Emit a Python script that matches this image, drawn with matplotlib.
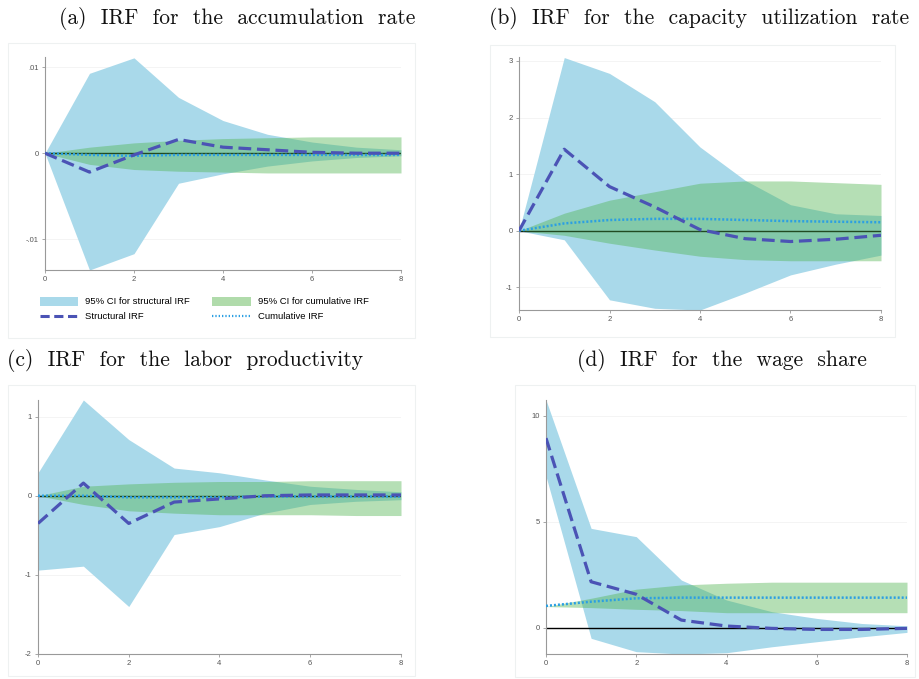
import matplotlib
matplotlib.use("Agg")
import matplotlib.pyplot as plt
from matplotlib.patches import Patch, Rectangle
from matplotlib.lines import Line2D

steps = [0, 1, 2, 3, 4, 5, 6, 7, 8]

# (a) accumulation rate
a_struct = [0, -0.0022, -0.0002, 0.0016, 0.0007, 0.0004, 0.0001, 0.0, 0.0]
a_struct_lo = [0, -0.0136, -0.0117, -0.0035, -0.0024, -0.0015, -0.0009, -0.0005, -0.0003]
a_struct_hi = [0, 0.0093, 0.0111, 0.0065, 0.0038, 0.0022, 0.0013, 0.0007, 0.0004]
a_cum = [0, -0.0002, -0.0003, -0.0002, -0.0002, -0.0002, -0.0002, -0.0002, -0.0002]
a_cum_lo = [0, -0.0013, -0.0019, -0.0021, -0.0022, -0.0023, -0.0023, -0.0023, -0.0023]
a_cum_hi = [0, 0.0007, 0.0012, 0.0015, 0.0017, 0.0018, 0.0019, 0.0019, 0.0019]

# (b) capacity utilization rate
b_struct = [0, 1.44, 0.78, 0.42, 0.02, -0.14, -0.19, -0.15, -0.08]
b_struct_lo = [0, -0.16, -1.22, -1.37, -1.40, -1.10, -0.78, -0.59, -0.43]
b_struct_hi = [0, 3.06, 2.78, 2.28, 1.48, 0.89, 0.46, 0.30, 0.27]
b_cum = [0, 0.13, 0.19, 0.21, 0.21, 0.19, 0.17, 0.16, 0.15]
b_cum_lo = [0, -0.08, -0.22, -0.34, -0.45, -0.51, -0.53, -0.53, -0.53]
b_cum_hi = [0, 0.31, 0.54, 0.69, 0.84, 0.88, 0.88, 0.85, 0.82]

# (c) labor productivity
c_struct = [-0.35, 0.16, -0.35, -0.08, -0.04, 0.0, 0.01, 0.01, 0.01]
c_struct_lo = [-0.94, -0.89, -1.40, -0.49, -0.39, -0.22, -0.11, -0.07, -0.05]
c_struct_hi = [0.29, 1.21, 0.71, 0.35, 0.29, 0.20, 0.12, 0.08, 0.05]
c_cum = [0, 0.0, -0.02, -0.02, -0.02, -0.01, -0.01, -0.01, -0.01]
c_cum_lo = [0, -0.11, -0.19, -0.22, -0.24, -0.24, -0.24, -0.25, -0.25]
c_cum_hi = [0, 0.12, 0.15, 0.17, 0.18, 0.18, 0.19, 0.19, 0.19]

# (d) wage share
d_struct = [8.95, 2.17, 1.58, 0.36, 0.08, -0.03, -0.08, -0.08, -0.03]
d_struct_lo = [7.15, -0.50, -1.13, -1.24, -1.18, -0.90, -0.66, -0.43, -0.22]
d_struct_hi = [10.75, 4.69, 4.30, 2.25, 1.31, 0.76, 0.44, 0.20, 0.09]
d_cum = [1.03, 1.23, 1.39, 1.42, 1.42, 1.42, 1.42, 1.42, 1.42]
d_cum_lo = [1.0, 0.95, 0.87, 0.81, 0.71, 0.71, 0.71, 0.71, 0.71]
d_cum_hi = [1.0, 1.39, 1.82, 2.02, 2.10, 2.15, 2.15, 2.15, 2.15]

titles = ["(a)  IRF  for  the  accumulation  rate",
          "(b)  IRF  for  the  capacity  utilization  rate",
          "(c)  IRF  for  the  labor  productivity",
          "(d)  IRF  for  the  wage  share"]
legend_labels = ["95% CI for structural IRF", "Structural IRF",
                 "95% CI for cumulative IRF", "Cumulative IRF"]

BLUE_CI = "#a9d9ea"
GREEN_CI = "#4fb350"
STRUCT = "#4b53b5"
CUM = "#2b9fe3"

W, H = 920, 679
fig = plt.figure(figsize=(W / 100, H / 100), dpi=100)

def fx(px):
    return px / W

def fy(py):
    return 1 - py / H

# faint panel boxes
for (x0, y0, x1, y1) in [(8, 43, 415, 338), (490, 45, 895, 337), (8, 385, 415, 676), (515, 385, 915, 677)]:
    fig.patches.append(Rectangle((fx(x0), fy(y1)), fx(x1 - x0), (y1 - y0) / H,
                                 transform=fig.transFigure, facecolor="none",
                                 edgecolor="#eef1f1", lw=0.8, zorder=-5))

panels = [
    dict(rect=(45, 57, 401, 270), ylim=(-0.0136, 0.0112), yticks=[-0.01, 0, 0.01],
         ylabels=["-.01", "0", ".01"],
         s=a_struct, slo=a_struct_lo, shi=a_struct_hi, c=a_cum, clo=a_cum_lo, chi=a_cum_hi,
         tpos=(237, 18)),
    dict(rect=(519, 57, 881, 310), ylim=(-1.40, 3.07), yticks=[-1, 0, 1, 2, 3],
         ylabels=["-1", "0", "1", "2", "3"],
         s=b_struct, slo=b_struct_lo, shi=b_struct_hi, c=b_cum, clo=b_cum_lo, chi=b_cum_hi,
         tpos=(699, 18)),
    dict(rect=(38, 400, 401, 654), ylim=(-2.0, 1.21), yticks=[-2, -1, 0, 1],
         ylabels=["-2", "-1", "0", "1"],
         s=c_struct, slo=c_struct_lo, shi=c_struct_hi, c=c_cum, clo=c_cum_lo, chi=c_cum_hi,
         tpos=(185, 360)),
    dict(rect=(546, 400, 907, 654), ylim=(-1.24, 10.75), yticks=[0, 5, 10],
         ylabels=["0", "5", "10"],
         s=d_struct, slo=d_struct_lo, shi=d_struct_hi, c=d_cum, clo=d_cum_lo, chi=d_cum_hi,
         tpos=(722, 360)),
]

tickfont = dict(family=["Liberation Sans", "DejaVu Sans"], size=5.5)

for i, p in enumerate(panels):
    x0, y0, x1, y1 = p["rect"]
    ax = fig.add_axes([fx(x0), fy(y1), fx(x1 - x0), (y1 - y0) / H])
    ax.set_facecolor("none")
    ax.fill_between(steps, p["slo"], p["shi"], color=BLUE_CI, lw=0, zorder=1)
    ax.axhline(0, color="black", lw=1.0, zorder=2)
    ax.fill_between(steps, p["clo"], p["chi"], color=GREEN_CI, alpha=0.42, lw=0, zorder=3)
    ax.plot(steps, p["s"], color=STRUCT, lw=2.3, dashes=(4, 1.8), zorder=5)
    ax.plot(steps, p["c"], color=CUM, lw=1.8, dashes=(0.8, 0.8), zorder=4)
    ax.set_xlim(0, 8)
    ax.set_ylim(*p["ylim"])
    ax.set_xticks([0, 2, 4, 6, 8])
    ax.set_xticklabels(["0", "2", "4", "6", "8"], **tickfont, color="#555555")
    ax.set_yticks(p["yticks"])
    ax.set_yticklabels(p["ylabels"], **tickfont, color="#555555")
    for sp in ["top", "right"]:
        ax.spines[sp].set_visible(False)
    for sp in ["left", "bottom"]:
        ax.spines[sp].set_color("#999999")
        ax.spines[sp].set_linewidth(0.8)
    ax.tick_params(length=2.5, width=0.6, color="#999999", pad=2)
    ax.grid(axis="y", color="#f2f2f2", lw=0.6, zorder=0)
    ax.set_axisbelow(True)
    fig.text(fx(p["tpos"][0]), fy(p["tpos"][1]), titles[i], ha="center", va="center",
             family=["cmr10", "DejaVu Serif"], size=15.5, color="#111111")

handles = [Patch(facecolor=BLUE_CI, edgecolor="none"),
           Line2D([], [], color=STRUCT, lw=2.2, dashes=(3, 1.5)),
           Patch(facecolor="#b0dbab", edgecolor="none"),
           Line2D([], [], color=CUM, lw=1.6, dashes=(0.6, 0.9))]
fig.legend(handles, legend_labels, ncol=2, loc="upper left",
           bbox_to_anchor=(fx(35), fy(292)), frameon=False,
           prop=dict(family=["Liberation Sans", "DejaVu Sans"], size=6.8),
           handlelength=4.1, handleheight=1.1, handletextpad=0.7,
           labelspacing=0.55, columnspacing=2.4, borderpad=0)

fig.savefig("out.png", dpi=100)
